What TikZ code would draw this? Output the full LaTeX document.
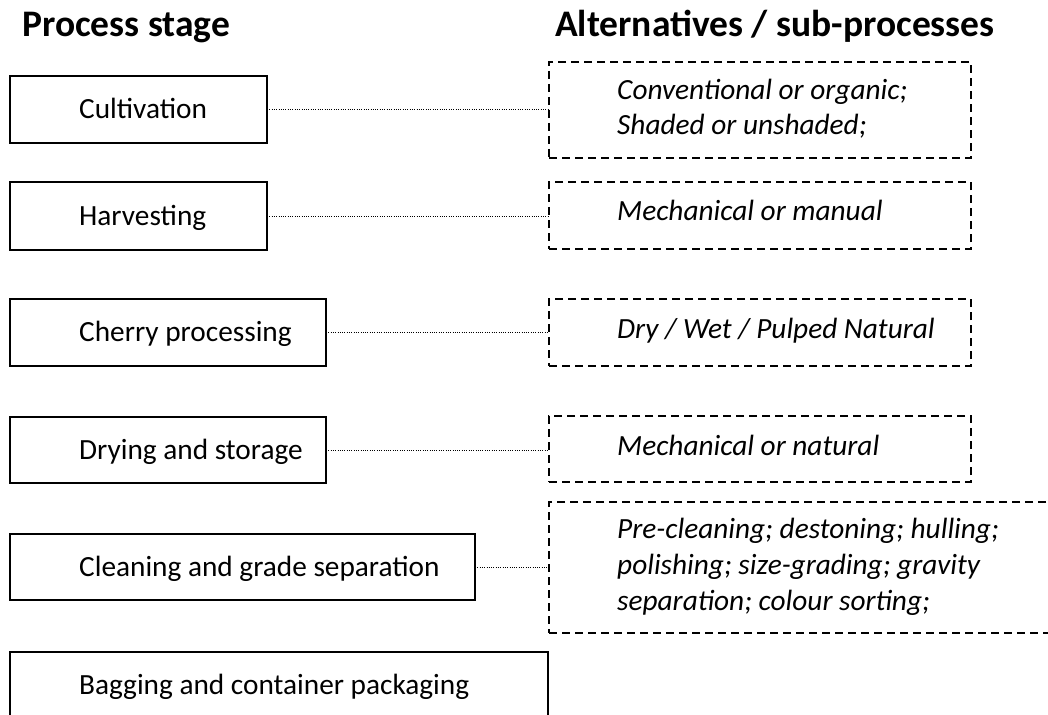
\documentclass[tikz,border=0pt]{standalone}
\usepackage{fontspec}
\setmainfont{Carlito}
\begin{document}
\begin{tikzpicture}[x=1pt,y=-1pt,
  stagebox/.style={draw, line width=1.8pt, rectangle, inner sep=0pt, outer sep=0pt},
  altbox/.style={draw, line width=1.4pt, dash pattern=on 8pt off 5pt, rectangle, inner sep=0pt, outer sep=0pt},
  link/.style={line width=0.9pt, dash pattern=on 1pt off 1.3pt},
  hdr/.style={font=\fontsize{37.5}{45}\selectfont\bfseries, anchor=base west, inner sep=0pt},
  lbl/.style={font=\fontsize{29.3}{35.5}\selectfont, anchor=base west, inner sep=0pt},
  altlbl/.style={font=\fontsize{29.3}{35.5}\selectfont\itshape, anchor=base west, inner sep=0pt, align=left}
]
\useasboundingbox (0,0) rectangle (1048,714);
\clip (0,0) rectangle (1048,714);

% headers
\node[hdr] (h1) at (22,37) {Process stage};
\node[hdr] (h2) at (555,37) {Alternatives / sub-processes};

% stage boxes
\node[stagebox, minimum width=257pt, minimum height=67pt] (cult) at (138.5,109.5) {};
\node[stagebox, minimum width=257pt, minimum height=68pt] (harv) at (138.5,216) {};
\node[stagebox, minimum width=316pt, minimum height=67pt] (cher) at (168,332.5) {};
\node[stagebox, minimum width=316pt, minimum height=66pt] (dry) at (168,450) {};
\node[stagebox, minimum width=465pt, minimum height=66pt] (clean) at (242.5,567) {};
\node[stagebox, minimum width=538pt, minimum height=110pt] (bag) at (279,707) {};

\node[lbl] (tcult) at (79,118.5) {Cultivation};
\node[lbl] (tharv) at (79,225) {Harvesting};
\node[lbl] (tcher) at (79,341.5) {Cherry processing};
\node[lbl] (tdry) at (79,459) {Drying and storage};
\node[lbl] (tclean) at (79,576) {Cleaning and grade separation};
\node[lbl] (tbag) at (79,694) {Bagging and container packaging};

% alternative boxes
\node[altbox, minimum width=422pt, minimum height=96pt] (a1) at (760,110) {};
\node[altbox, minimum width=422pt, minimum height=67pt] (a2) at (760,215.5) {};
\node[altbox, minimum width=422pt, minimum height=67pt] (a3) at (760,332.5) {};
\node[altbox, minimum width=422pt, minimum height=66pt] (a4) at (760,449) {};
\node[altbox, minimum width=560pt, minimum height=131pt] (a5) at (829,567.5) {};

\node[altlbl] (t1) at (617,135) {Conventional or organic;\\Shaded or unshaded;};
\node[altlbl] (t2) at (617,220) {Mechanical or manual};
\node[altlbl] (t3) at (617,338) {Dry / Wet / Pulped Natural};
\node[altlbl] (t4) at (617,455) {Mechanical or natural};
\node[altlbl, font=\fontsize{29.3}{36}\selectfont\itshape] (t5) at (617,610) {Pre-cleaning; destoning; hulling;\\polishing; size-grading; gravity\\separation; colour sorting;};

% connectors
\draw[link] (cult.east) -- (cult.east -| a1.west);
\draw[link] (harv.east) -- (harv.east -| a2.west);
\draw[link] (cher.east) -- (cher.east -| a3.west);
\draw[link] (dry.east) -- (dry.east -| a4.west);
\draw[link] (clean.east) -- (clean.east -| a5.west);
\end{tikzpicture}
\end{document}
